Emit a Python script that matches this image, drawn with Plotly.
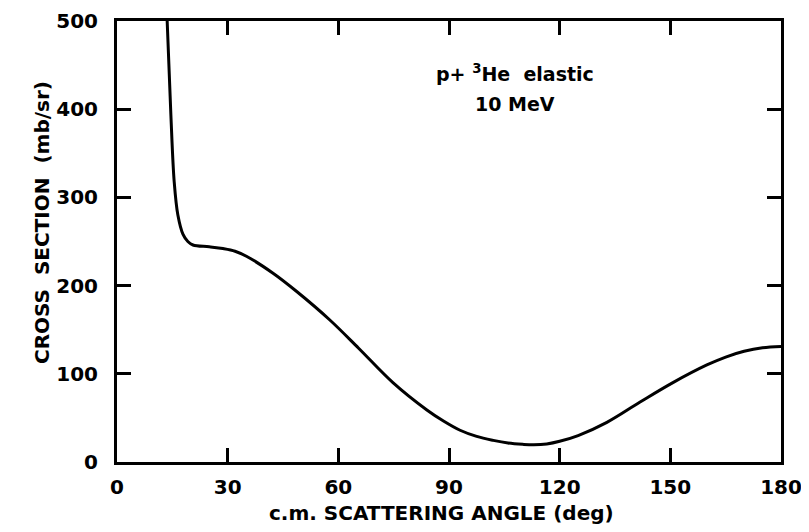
import plotly.graph_objects as go

angle_deg = [13.6, 14.6, 15.5, 16.5, 17.9, 19.2, 20.6, 25.0, 28.7, 32.0, 35.2, 42.3, 48.8, 57.7,
             65.5, 74.8, 84.0, 88.5, 93.0, 97.5, 102.0, 106.0, 110.0, 113.0, 116.5, 120.0,
             125.0, 132.8, 141.8, 150.7, 159.9, 165.0, 170.0, 175.0, 180.0]
cross_section = [500, 394, 318, 280, 258, 250, 246, 244, 242, 239, 233, 214, 193, 161,
                 129, 90, 59, 46.5, 36, 29, 24.5, 21.5, 20, 19.5, 20.5, 23.5,
                 30, 45, 68, 90, 110, 119, 125.5, 129.5, 131]

x_ticks = [0, 30, 60, 90, 120, 150, 180]
y_ticks = [0, 100, 200, 300, 400, 500]

FONT = "DejaVu Sans"
NB = "\u00a0"

fig = go.Figure()
fig.add_trace(go.Scatter(
    x=angle_deg, y=cross_section, mode="lines",
    line=dict(color="black", width=3, shape="spline", smoothing=1.0),
    showlegend=False, hoverinfo="skip"))

axis_common = dict(
    showline=True, linecolor="black", linewidth=3, mirror="allticks",
    ticks="inside", ticklen=14, tickwidth=3, tickcolor="black",
    showgrid=False, zeroline=False, automargin=False,
    tickfont=dict(family=FONT, size=20, color="black", weight="bold"),
)

fig.update_xaxes(range=[0, 180], tickvals=x_ticks, ticktext=[str(v) for v in x_ticks],
                 ticklabelstandoff=5, **axis_common)
fig.update_yaxes(range=[0, 500], tickvals=y_ticks, ticktext=[str(v) for v in y_ticks],
                 ticklabelstandoff=12, **axis_common)

title_font = dict(family=FONT, size=20, color="black", weight="bold")
fig.add_annotation(x=0.488, y=-0.148, xref="paper", yref="paper", showarrow=False,
                   text="c.m. SCATTERING ANGLE (deg)", font=title_font)
fig.add_annotation(x=-0.134, y=0.542, xref="paper", yref="paper", showarrow=False,
                   text=f"CROSS{NB}{NB}SECTION{NB}{NB}(mb/sr)", textangle=-90, font=title_font)

ann_font = dict(family=FONT, size=19, color="black", weight="bold")
fig.add_annotation(x=108, y=441, xref="x", yref="y", showarrow=False,
                   text=f"p+{NB}<sup>3</sup>He{NB}{NB}elastic", font=ann_font)
fig.add_annotation(x=108, y=406, xref="x", yref="y", showarrow=False,
                   text=f"10{NB}MeV", font=ann_font)

# the page body adds an 8px margin, so the figure is 8px smaller and margins shifted
fig.update_layout(
    width=801, height=524,
    margin=dict(l=109, r=28, t=13, b=70),
    paper_bgcolor="white", plot_bgcolor="white",
)

fig.write_html("out.html")
